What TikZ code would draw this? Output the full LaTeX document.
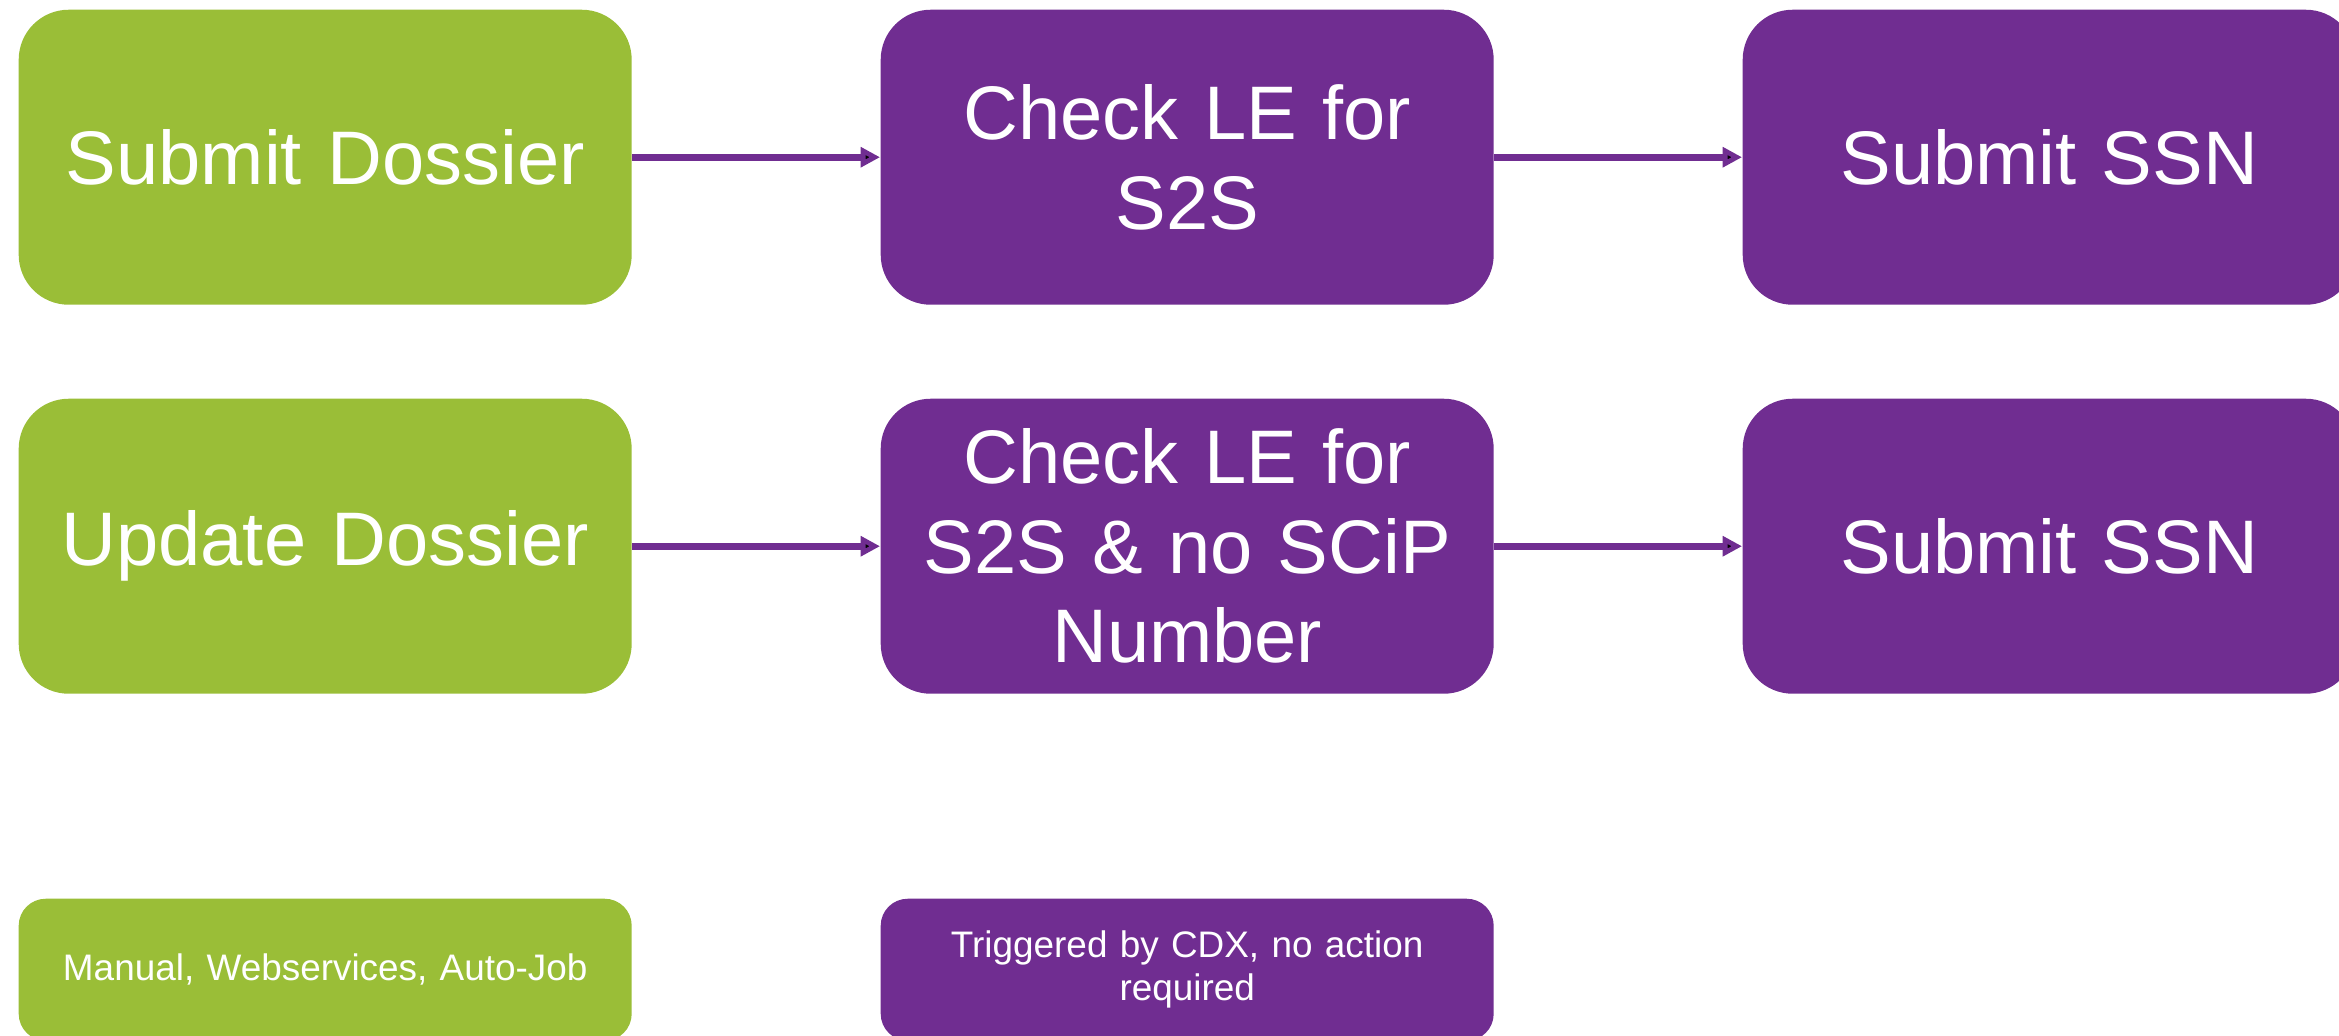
\documentclass[tikz,border=0pt]{standalone}
\usepackage{fontspec}
\setmainfont{Liberation Sans}
\usepackage{tikz}
\usetikzlibrary{matrix,arrows.meta}
\definecolor{stepgreen}{RGB}{154,190,55}
\definecolor{steppurple}{RGB}{112,45,145}

\begin{document}
\begin{tikzpicture}[
	bigbox/.style={rounded corners=0.5cm, text=white, inner sep=0pt, text width=6.13cm, minimum height=2.95cm, align=center, font=\fontsize{21.6}{25.5}\selectfont},
	smallbox/.style={rounded corners=0.27cm, text=white, inner sep=0pt, text width=6.13cm, minimum height=1.42cm, align=center, font=\fontsize{10.5}{12.2}\selectfont},
	greenbox/.style={fill=stepgreen},
	purplebox/.style={fill=steppurple},
	flowarrow/.style={draw=steppurple, line width=2pt, -{Triangle[length=5.5pt,width=5.5pt]}}
	]
	\useasboundingbox (0,0) rectangle (23.39,-10.35);
	\matrix (flow) [matrix of nodes, inner sep=0pt, anchor=north west, column sep=2.49cm, row sep=0.94cm, nodes={anchor=center}] at (0.18,-0.09)
	{
		|[bigbox,greenbox]| Submit Dossier & |[bigbox,purplebox]| {Check LE for\\S2S} & |[bigbox,purplebox]| Submit SSN \\
		|[bigbox,greenbox]| Update Dossier & |[bigbox,purplebox]| {Check LE for\\S2S \& no SCiP\\Number} & |[bigbox,purplebox]| Submit SSN \\[1.11cm]
		|[smallbox,greenbox]| {Manual, Webservices, Auto-Job} & |[smallbox,purplebox]| {Triggered by CDX, no action\\required} & \\
	};
	\path[flowarrow]
	(flow-1-1) edge (flow-1-2)
	(flow-1-2) edge (flow-1-3)
	(flow-2-1) edge (flow-2-2)
	(flow-2-2) edge (flow-2-3)
	;
\end{tikzpicture}
\end{document}
